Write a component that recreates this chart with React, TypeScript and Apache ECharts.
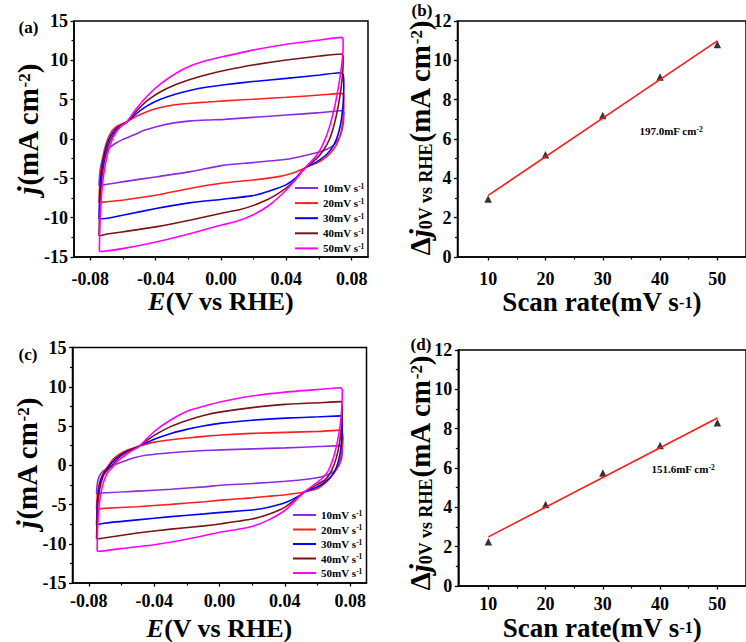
import React, { useEffect, useRef } from "react";
import * as echarts from "echarts";

// ---------- data ----------
const RATES = [10, 20, 30, 40, 50];
const RATE_LABELS = ["10", "20", "30", "40", "50"];
const E_TICKS = [-0.08, -0.04, 0, 0.04, 0.08];
const E_MINOR = [-0.06, -0.02, 0.02, 0.06];
const RATE_TICKS = [10, 20, 30, 40, 50];
const RATE_MINOR = [15, 25, 35, 45];
const CV_COLORS = ["#8a2be2", "#ff1f1f", "#0000ff", "#7a1414", "#ff00ff"];

// panel (a) CV loops [E (V), j (mA cm-2)]
const A10 = [[-0.0747,-5.93],[-0.0744,-4.8],[-0.0738,-3.7],[-0.0727,-2.7],[-0.071,-1.9],[-0.0685,-1.2],[-0.065,-0.6],[-0.06,-0.05],[-0.0535,0.5],[-0.047,1.1],[-0.039,1.6],[-0.0287,2.05],[-0.0185,2.3],[-0.0082,2.42],[0.002,2.5],[0.0195,2.75],[0.04,3.05],[0.0605,3.35],[0.0738,3.6],[0.0752,3.4],[0.0749,2.0],[0.0735,0.7],[0.071,-0.3],[0.0675,-1.0],[0.063,-1.45],[0.0584,-1.74],[0.0502,-2.16],[0.04,-2.58],[0.0195,-3.0],[0.001,-3.35],[-0.0185,-4.15],[-0.039,-4.79],[-0.0595,-5.42],[-0.0697,-5.76],[-0.0747,-5.93]];
const A20 = [[-0.0747,-8.09],[-0.0745,-6.8],[-0.0741,-5.3],[-0.0735,-3.9],[-0.0726,-2.6],[-0.0713,-1.3],[-0.0695,-0.1],[-0.0672,0.9],[-0.0645,1.5],[-0.0615,1.85],[-0.058,2.15],[-0.052,2.85],[-0.045,3.5],[-0.037,4.0],[-0.028,4.35],[-0.0185,4.55],[-0.0082,4.7],[0.002,4.85],[0.0195,5.05],[0.04,5.3],[0.0605,5.59],[0.0738,5.8],[0.0752,5.5],[0.0752,4.1],[0.0746,2.3],[0.0732,0.6],[0.0705,-0.8],[0.0665,-1.9],[0.061,-2.8],[0.0555,-3.3],[0.0513,-3.7],[0.0462,-4.15],[0.0359,-4.75],[0.0195,-5.21],[0.001,-5.6],[-0.0185,-6.27],[-0.039,-7.12],[-0.0595,-7.75],[-0.0697,-7.97],[-0.0747,-8.09]];
const A30 = [[-0.0747,-10.17],[-0.0745,-8.6],[-0.0742,-7.0],[-0.0737,-5.4],[-0.073,-3.9],[-0.072,-2.6],[-0.0705,-1.2],[-0.0685,0.0],[-0.066,0.9],[-0.063,1.5],[-0.058,2.1],[-0.052,3.2],[-0.045,4.25],[-0.037,5.05],[-0.028,5.7],[-0.0185,6.2],[-0.0082,6.6],[0.002,6.9],[0.0195,7.3],[0.04,7.71],[0.0605,8.14],[0.0728,8.43],[0.0748,8.2],[0.0752,6.6],[0.0748,4.6],[0.0738,2.6],[0.072,0.8],[0.0692,-0.7],[0.065,-1.9],[0.0585,-2.9],[0.0513,-3.7],[0.046,-4.9],[0.04,-5.8],[0.0297,-6.6],[0.0195,-7.2],[0.001,-7.65],[-0.0185,-8.09],[-0.039,-8.81],[-0.0595,-9.66],[-0.0697,-10.08],[-0.0747,-10.17]];
const A40 = [[-0.0747,-12.33],[-0.0745,-10.5],[-0.0742,-8.6],[-0.0737,-6.8],[-0.073,-5.1],[-0.072,-3.5],[-0.0706,-2.0],[-0.0688,-0.7],[-0.0667,0.3],[-0.0643,1.05],[-0.0614,1.65],[-0.058,2.1],[-0.052,3.5],[-0.045,4.9],[-0.037,6.0],[-0.028,6.9],[-0.0185,7.6],[-0.0082,8.2],[0.002,8.7],[0.0195,9.4],[0.04,10.04],[0.0605,10.55],[0.0738,10.8],[0.0748,10.5],[0.0746,8.8],[0.0735,6.4],[0.0718,4.2],[0.0695,2.0],[0.0665,0.0],[0.0625,-1.5],[0.058,-2.6],[0.0513,-3.7],[0.0441,-5.5],[0.0338,-7.1],[0.0236,-8.15],[0.0113,-9.0],[0.001,-9.4],[-0.0185,-10.3],[-0.039,-11.14],[-0.0595,-11.78],[-0.0697,-12.08],[-0.0747,-12.33]];
const A50 = [[-0.0745,-14.3],[-0.0743,-12.3],[-0.074,-10.3],[-0.0735,-8.3],[-0.0728,-6.3],[-0.0718,-4.5],[-0.0705,-2.9],[-0.0688,-1.4],[-0.0666,-0.1],[-0.064,0.9],[-0.0612,1.6],[-0.058,2.1],[-0.052,3.8],[-0.045,5.5],[-0.037,7.0],[-0.028,8.3],[-0.0185,9.3],[-0.0082,10.0],[0.002,10.5],[0.0195,11.3],[0.04,12.05],[0.0605,12.58],[0.0738,12.92],[0.0748,12.6],[0.0746,10.9],[0.0735,8.8],[0.0718,6.5],[0.0695,4.0],[0.0665,1.6],[0.063,-0.4],[0.0585,-2.1],[0.0513,-3.7],[0.045,-5.3],[0.04,-6.48],[0.0297,-8.39],[0.0195,-9.66],[0.0092,-10.5],[0.001,-10.9],[-0.0185,-12.0],[-0.039,-13.05],[-0.0595,-13.9],[-0.0738,-14.3],[-0.0745,-14.3]];

// panel (c) CV loops
const C10 = [[-0.0753,-3.68],[-0.0751,-2.9],[-0.0746,-2.1],[-0.0737,-1.45],[-0.0722,-0.95],[-0.07,-0.55],[-0.067,-0.2],[-0.063,0.15],[-0.0585,0.5],[-0.0523,0.95],[-0.0441,1.3],[-0.0297,1.6],[-0.0195,1.75],[-0.0092,1.87],[0.001,1.96],[0.0199,2.08],[0.0404,2.21],[0.0609,2.38],[0.0742,2.5],[0.0752,1.87],[0.0748,0.9],[0.0732,0.0],[0.0705,-0.7],[0.067,-1.15],[0.062,-1.5],[0.0547,-1.75],[0.0404,-2.04],[0.0199,-2.33],[0.001,-2.54],[-0.0092,-2.75],[-0.0297,-3.05],[-0.0503,-3.3],[-0.0708,-3.51],[-0.0753,-3.68]];
const C20 = [[-0.0753,-5.57],[-0.0751,-4.6],[-0.0747,-3.6],[-0.074,-2.7],[-0.0728,-1.8],[-0.071,-1.0],[-0.0685,-0.2],[-0.0652,0.75],[-0.061,1.45],[-0.0555,2.0],[-0.049,2.45],[-0.04,2.95],[-0.0297,3.25],[-0.0195,3.48],[-0.0092,3.68],[0.001,3.85],[0.0199,4.06],[0.0404,4.19],[0.0609,4.31],[0.0742,4.48],[0.0756,3.56],[0.0752,2.2],[0.0742,0.9],[0.0722,-0.3],[0.069,-1.3],[0.065,-2.2],[0.0595,-3.0],[0.052,-3.4],[0.0404,-3.75],[0.0301,-3.95],[0.0199,-4.15],[0.001,-4.44],[-0.0092,-4.65],[-0.0297,-4.98],[-0.0503,-5.28],[-0.0708,-5.49],[-0.0753,-5.57]];
const C30 = [[-0.0753,-7.59],[-0.0751,-6.3],[-0.0748,-5.0],[-0.0743,-3.8],[-0.0734,-2.6],[-0.072,-1.5],[-0.07,-0.8],[-0.0672,0.0],[-0.0632,0.9],[-0.0575,1.7],[-0.049,2.45],[-0.04,3.3],[-0.0297,4.05],[-0.0195,4.6],[-0.0092,5.03],[0.001,5.37],[0.0199,5.74],[0.0404,6.0],[0.0609,6.17],[0.0742,6.29],[0.0752,5.24],[0.0749,3.4],[0.074,1.7],[0.0722,0.1],[0.0695,-1.1],[0.0655,-2.0],[0.06,-2.75],[0.052,-3.4],[0.0486,-3.9],[0.0404,-4.75],[0.0301,-5.35],[0.0199,-5.7],[0.001,-6.0],[-0.0092,-6.2],[-0.0297,-6.54],[-0.0503,-6.96],[-0.0708,-7.38],[-0.0753,-7.59]];
const C40 = [[-0.0753,-9.4],[-0.0751,-7.8],[-0.0749,-6.3],[-0.0745,-4.9],[-0.0738,-3.6],[-0.0726,-2.3],[-0.0708,-1.2],[-0.0683,-0.55],[-0.065,0.2],[-0.0605,1.15],[-0.0555,1.8],[-0.049,2.45],[-0.04,3.8],[-0.0297,4.95],[-0.0195,5.74],[-0.0092,6.38],[0.001,6.8],[0.0199,7.34],[0.0404,7.76],[0.0609,7.97],[0.0742,8.1],[0.0752,7.0],[0.0748,5.0],[0.0736,3.0],[0.0716,1.0],[0.0688,-0.6],[0.065,-1.8],[0.0595,-2.5],[0.052,-3.4],[0.0486,-4.0],[0.0404,-5.3],[0.0301,-6.25],[0.0199,-6.85],[0.001,-7.45],[-0.0092,-7.72],[-0.0297,-8.14],[-0.0503,-8.64],[-0.0708,-9.27],[-0.0753,-9.4]];
const C50 = [[-0.0749,-10.96],[-0.0748,-9.2],[-0.0745,-7.6],[-0.074,-6.0],[-0.0733,-4.5],[-0.0722,-3.1],[-0.0706,-1.9],[-0.0685,-0.95],[-0.0657,-0.3],[-0.0622,0.55],[-0.0563,1.5],[-0.049,2.45],[-0.04,4.3],[-0.0297,5.8],[-0.0195,6.9],[-0.0092,7.55],[0.001,8.1],[0.0199,8.82],[0.0404,9.32],[0.0609,9.66],[0.0742,9.87],[0.0752,9.6],[0.0749,7.5],[0.074,5.3],[0.0722,3.0],[0.0695,0.8],[0.066,-0.9],[0.061,-2.0],[0.052,-3.4],[0.0404,-5.7],[0.0301,-6.96],[0.0199,-7.8],[0.0096,-8.22],[0.001,-8.5],[-0.0195,-9.4],[-0.04,-10.12],[-0.0605,-10.62],[-0.0738,-10.96],[-0.0749,-10.96]];

// panel (b) and (d): delta j at 0 V vs scan rate
const DJ_B = [2.95, 5.2, 7.2, 9.15, 10.8];
const DJ_D = [2.25, 4.15, 5.75, 7.15, 8.3];
const FIT_B = [[10, 3.13], [50, 10.99]];
const FIT_D = [[10, 2.5], [50, 8.54]];
const SLOPE_B = "197.0mF cm";
const SLOPE_D = "151.6mF cm";

const CV_A = [A10, A20, A30, A40, A50];
const CV_C = [C10, C20, C30, C40, C50];

// ---------- styling ----------
const FONT = '"Liberation Serif", "Times New Roman", serif';

function xMainAxis(gridIndex: number, min: number, max: number, ticks: number[], fmt: (v: number) => string, margin: number, name: string, nameGap: number, nameSize: number) {
  return {
    type: "value", gridIndex, min, max, position: "bottom",
    axisLine: { show: true, onZero: false, lineStyle: { color: "#000", width: 1.5 } },
    axisTick: { show: true, inside: false, length: 3.5, customValues: ticks, lineStyle: { color: "#000", width: 1.3 } },
    axisLabel: { show: true, customValues: ticks, formatter: fmt, margin, color: "#000", fontFamily: FONT, fontWeight: "bold", fontSize: 18 },
    splitLine: { show: false },
    name, nameLocation: "middle", nameGap,
    nameTextStyle: {
      color: "#000",
      rich: {
        i: { fontFamily: FONT, fontWeight: "bold", fontStyle: "italic", fontSize: nameSize, lineHeight: nameSize, verticalAlign: "middle" },
        n: { fontFamily: FONT, fontWeight: "bold", fontSize: nameSize, lineHeight: nameSize, verticalAlign: "middle" },
        sup: { fontFamily: FONT, fontWeight: "bold", fontSize: Math.round(nameSize * 0.6), lineHeight: Math.round(nameSize * 0.6), verticalAlign: "middle" },
      },
    },
  };
}
function xMinorAxis(gridIndex: number, min: number, max: number, ticks: number[]) {
  return {
    type: "value", gridIndex, min, max, position: "bottom",
    axisLine: { show: false, onZero: false },
    axisTick: { show: true, inside: false, length: 2.5, customValues: ticks, lineStyle: { color: "#000", width: 1.2 } },
    axisLabel: { show: false },
    splitLine: { show: false },
  };
}
function yAxis(gridIndex: number, min: number, max: number, interval: number, margin: number) {
  return {
    type: "value", gridIndex, min, max, interval,
    axisLine: { show: true, onZero: false, lineStyle: { color: "#000", width: 1.5 } },
    axisTick: { show: true, inside: false, length: 3.5, lineStyle: { color: "#000", width: 1.3 } },
    minorTick: { show: true, splitNumber: 2, length: 2.5, lineStyle: { color: "#000", width: 1.2 } },
    axisLabel: { margin, color: "#000", fontFamily: FONT, fontWeight: "bold", fontSize: 18 },
    splitLine: { show: false },
  };
}

const legendRich = {
  n: { fontFamily: FONT, fontWeight: "bold", fontSize: 11, lineHeight: 12, color: "#000", verticalAlign: "middle" },
  sup: { fontFamily: FONT, fontWeight: "bold", fontSize: 7.5, lineHeight: 8, color: "#000", verticalAlign: "top" },
};

function yTitleRich(size: number) {
  return {
    i: { fontFamily: FONT, fontWeight: "bold", fontStyle: "italic", fontSize: size, lineHeight: size, verticalAlign: "middle", fill: "#000" },
    n: { fontFamily: FONT, fontWeight: "bold", fontSize: size, lineHeight: size, verticalAlign: "middle", fill: "#000" },
    sub: { fontFamily: FONT, fontWeight: "bold", fontSize: Math.round(size * 0.62), lineHeight: Math.round(size * 0.62), padding: [Math.round(size * 0.72), 0, 0, 0], verticalAlign: "bottom", fill: "#000" },
    sup: { fontFamily: FONT, fontWeight: "bold", fontSize: Math.round(size * 0.6), lineHeight: Math.round(size * 0.6), padding: [2, 0, 0, 0], verticalAlign: "top", fill: "#000" },
  };
}

export default function App() {
  const ref = useRef<HTMLDivElement>(null);
  useEffect(() => {
    if (!ref.current) return;
    const chart = echarts.init(ref.current, null, { renderer: "svg" });
    const fmtE = (v: number) => v.toFixed(2);
    const fmtR = (v: number) => RATE_LABELS[RATES.indexOf(Math.round(v))] ?? String(v);
    const namesA = RATES.map((r) => "a" + r);
    const namesC = RATES.map((r) => "c" + r);
    const legendFmt = (name: string) => `{n|${name.slice(1)}mV s}{sup|-1}`;

    const series: any[] = [];
    CV_A.forEach((d, k) => series.push({
      name: namesA[k], type: "line", xAxisIndex: 0, yAxisIndex: 0, data: d,
      showSymbol: false, symbol: "none", smooth: 0.2, color: CV_COLORS[k],
      lineStyle: { color: CV_COLORS[k], width: 1.6 }, itemStyle: { color: CV_COLORS[k] },
    }));
    CV_C.forEach((d, k) => series.push({
      name: namesC[k], type: "line", xAxisIndex: 4, yAxisIndex: 2, data: d,
      showSymbol: false, symbol: "none", smooth: 0.2, color: CV_COLORS[k],
      lineStyle: { color: CV_COLORS[k], width: 1.6 }, itemStyle: { color: CV_COLORS[k] },
    }));
    series.push({ type: "line", xAxisIndex: 2, yAxisIndex: 1, data: FIT_B, showSymbol: false, symbol: "none", lineStyle: { color: "#ff1a1a", width: 1.6 } });
    series.push({ type: "scatter", xAxisIndex: 2, yAxisIndex: 1, data: RATES.map((r, i) => [r, DJ_B[i]]), symbol: "triangle", symbolSize: 7.5, itemStyle: { color: "#000" } });
    series.push({ type: "line", xAxisIndex: 6, yAxisIndex: 3, data: FIT_D, showSymbol: false, symbol: "none", lineStyle: { color: "#ff1a1a", width: 1.6 } });
    series.push({ type: "scatter", xAxisIndex: 6, yAxisIndex: 3, data: RATES.map((r, i) => [r, DJ_D[i]]), symbol: "triangle", symbolSize: 7.5, itemStyle: { color: "#000" } });

    const gridStyle = { show: true, borderColor: "#000", borderWidth: 1.5, backgroundColor: "transparent", containLabel: false };
    const titleJ = "{i|j}{n|(mA cm}{sup|-2}{n|)}";
    const titleDJ = "{n|Δ}{i|j}{sub|0V vs RHE}{n|(mA cm}{sup|-2}{n|)}";
    const panelLabel = (text: string, x: number, y: number) => ({
      type: "text", x, y,
      style: { text, fill: "#000", font: `bold 17px ${FONT}`, align: "center", verticalAlign: "middle" },
    });
    const yTitle = (text: string, x: number, y: number, size: number) => ({
      type: "text", x, y, rotation: Math.PI / 2,
      style: { text, rich: yTitleRich(size), align: "center", verticalAlign: "middle", fill: "#000" },
    });
    const slopeText = (t: string, x: number, y: number) => ({
      type: "text", x, y,
      style: {
        text: `{n|${t}}{sup|-2}`, align: "center", verticalAlign: "middle",
        rich: {
          n: { fontFamily: FONT, fontWeight: "bold", fontSize: 11, lineHeight: 12, verticalAlign: "middle", fill: "#000" },
          sup: { fontFamily: FONT, fontWeight: "bold", fontSize: 7.5, lineHeight: 8, verticalAlign: "top", fill: "#000" },
        },
      },
    });

    chart.setOption({
      animation: false,
      backgroundColor: "#fff",
      grid: [
        { ...gridStyle, left: 74, top: 21, width: 294, height: 236 },
        { ...gridStyle, left: 457.5, top: 21, width: 295, height: 236 },
        { ...gridStyle, left: 72.5, top: 347.5, width: 294, height: 238 },
        { ...gridStyle, left: 458.3, top: 350, width: 294, height: 237 },
      ],
      xAxis: [
        xMainAxis(0, -0.09, 0.09, E_TICKS, fmtE, 13, "{i|E}{n|(V vs RHE)}", 24, 26),
        xMinorAxis(0, -0.09, 0.09, E_MINOR),
        xMainAxis(1, 4.65, 55, RATE_TICKS, fmtR, 13, "{n|Scan rate(mV s}{sup|-1}{n|)}", 22, 27),
        xMinorAxis(1, 4.65, 55, RATE_MINOR),
        xMainAxis(2, -0.09, 0.09, E_TICKS, fmtE, 9, "{i|E}{n|(V vs RHE)}", 32, 26),
        xMinorAxis(2, -0.09, 0.09, E_MINOR),
        xMainAxis(3, 4.75, 55, RATE_TICKS, fmtR, 9, "{n|Scan rate(mV s}{sup|-1}{n|)}", 24, 27),
        xMinorAxis(3, 4.75, 55, RATE_MINOR),
      ],
      yAxis: [
        yAxis(0, -15, 15, 5, 6),
        yAxis(1, 0, 12, 2, 6),
        yAxis(2, -15, 15, 5, 6),
        yAxis(3, 0, 12, 2, 6),
      ],
      legend: [
        { data: namesA, left: 295, top: 182, orient: "vertical", icon: "rect", itemWidth: 23, itemHeight: 2, itemGap: 3.6, padding: 0, selectedMode: false, formatter: legendFmt, textStyle: { rich: legendRich, color: "#000" } },
        { data: namesC, left: 293, top: 509, orient: "vertical", icon: "rect", itemWidth: 23, itemHeight: 2, itemGap: 3, padding: 0, selectedMode: false, formatter: legendFmt, textStyle: { rich: legendRich, color: "#000" } },
      ],
      graphic: [
        panelLabel("(a)", 28.5, 27),
        panelLabel("(b)", 422, 10),
        panelLabel("(c)", 28, 354),
        panelLabel("(d)", 421, 344),
        yTitle(titleJ, 28, 129, 29),
        yTitle(titleDJ, 420, 138, 29),
        yTitle(titleJ, 27, 463, 29),
        yTitle(titleDJ, 420, 473, 29),
        slopeText(SLOPE_B, 671, 131),
        slopeText(SLOPE_D, 683, 469),
      ],
      series,
    });
    return () => chart.dispose();
  }, []);
  return <div ref={ref} style={{ position: "fixed", left: 0, top: 0, width: 746, height: 642, background: "#fff" }} />;
}
